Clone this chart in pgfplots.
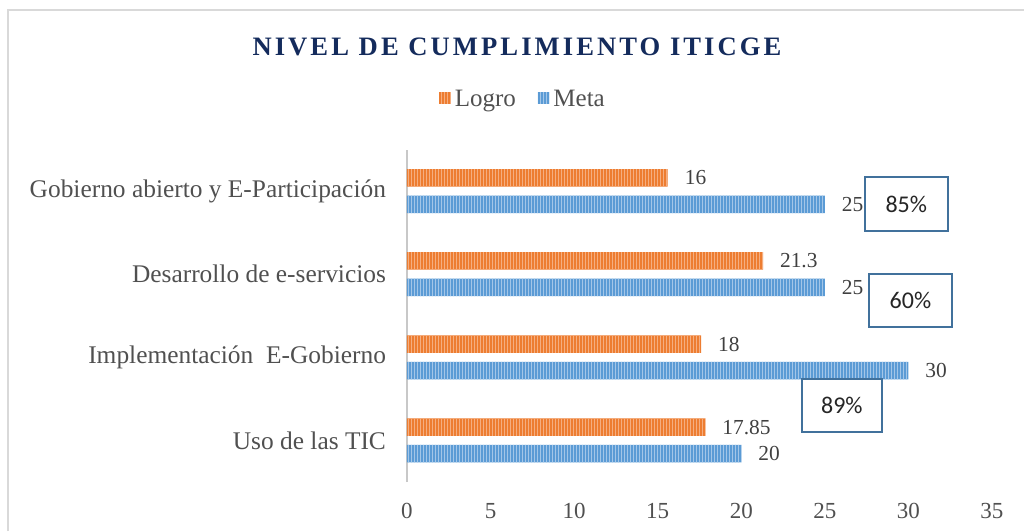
\documentclass[border=0pt]{standalone}
\usepackage{fontspec}
\setmainfont{Liberation Serif}
\newfontfamily\boxfont{Carlito}
\newfontfamily\titlefont{Liberation Serif}[LetterSpace=11.5]
\usepackage{pgfplots}
\pgfplotsset{compat=1.18}
\usetikzlibrary{patterns.meta}
\definecolor{logro}{HTML}{ED7D31}
\definecolor{logroS}{HTML}{F5AE80}
\definecolor{meta}{HTML}{5B9BD5}
\definecolor{metaS}{HTML}{A3C6E8}
\definecolor{txt}{HTML}{505050}
\definecolor{vals}{HTML}{404040}
\definecolor{navy}{HTML}{142B5C}
\definecolor{boxc}{HTML}{41719C}
\definecolor{boxtxt}{HTML}{262626}
\definecolor{framec}{HTML}{D9D9D9}
\definecolor{axisc}{HTML}{C8C8C8}

\begin{document}
\begin{tikzpicture}
\useasboundingbox (0,0) rectangle (512pt,265.5pt);
\draw[framec, line width=1pt] (4pt,0) -- (4pt,260.5pt) -- (512pt,260.5pt);
\node[font=\titlefont\bfseries\fontsize{13.3}{15}\selectfont, text=navy] at (258.5pt,242pt) {NIVEL DE CUMPLIMIENTO ITICGE};
\begin{axis}[
    at={(203.5pt,24.5pt)}, anchor=south west,
    scale only axis, width=292.5pt, height=166.25pt,
    xbar, bar width=8.75pt,
    xmin=0, xmax=35, ymin=-0.5, ymax=3.5,
    xtick={0,5,...,35},
    ytick={0,1,2,3},
    yticklabels={
        {Uso de las TIC},
        {Implementación\ \ E-Gobierno},
        {Desarrollo de e-servicios},
        {Gobierno abierto y E-Participación}
    },
    axis lines*=left,
    x axis line style={draw=none},
    y axis line style={draw=axisc, line width=1.2pt},
    major tick length=0pt,
    /pgf/number format/assume math mode=true,
    xticklabel style={font=\fontsize{11.5}{13}\selectfont, text=txt, yshift=-7pt},
    yticklabel style={font=\fontsize{12.7}{14}\selectfont, text=txt, xshift=-7pt},
    point meta=explicit symbolic,
    nodes near coords,
    every node near coord/.append style={font=\fontsize{10.7}{12}\selectfont, text=vals, anchor=west, xshift=5pt},
    clip=false,
    legend style={at={(0.2,1.149)}, anchor=center, draw=none, fill=none,
        font=\fontsize{12.5}{14}\selectfont, text=txt, legend columns=2,
        /tikz/every even column/.append style={column sep=9pt}},
    legend image code/.code={\path[#1] (0pt,-0.2em) rectangle (0.58em,0.38em);},
]
\addplot[fill=logro, draw=none, bar shift=6.6pt,
    postaction={pattern={Lines[angle=90,distance=1.5pt,line width=0.45pt]}, pattern color=logroS}]
    coordinates {
    (17.85,0) [17.85]
    (17.6,1)  [18]
    (21.3,2)  [21.3]
    (15.6,3)  [16]
};
\addlegendentry{Logro}
\addplot[fill=meta, draw=none, bar shift=-6.6pt,
    postaction={pattern={Lines[angle=90,distance=1.5pt,line width=0.45pt]}, pattern color=metaS}]
    coordinates {
    (20,0) [20]
    (30,1) [30]
    (25,2) [25]
    (25,3) [25]
};
\addlegendentry{Meta}

% cuadros de porcentaje
\draw[boxc, line width=1pt, fill=white] (axis cs:27.39,3.17) rectangle (axis cs:32.36,2.52);
\node[font=\boxfont\fontsize{12}{14}\selectfont, text=boxtxt] at (axis cs:29.87,2.845) {85\%};
\draw[boxc, line width=1pt, fill=white] (axis cs:27.63,2.0) rectangle (axis cs:32.6,1.365);
\node[font=\boxfont\fontsize{12}{14}\selectfont, text=boxtxt] at (axis cs:30.12,1.68) {60\%};
\draw[boxc, line width=1pt, fill=white] (axis cs:23.62,0.739) rectangle (axis cs:28.41,0.101);
\node[font=\boxfont\fontsize{12}{14}\selectfont, text=boxtxt] at (axis cs:26.02,0.42) {89\%};
\end{axis}
\end{tikzpicture}
\end{document}
